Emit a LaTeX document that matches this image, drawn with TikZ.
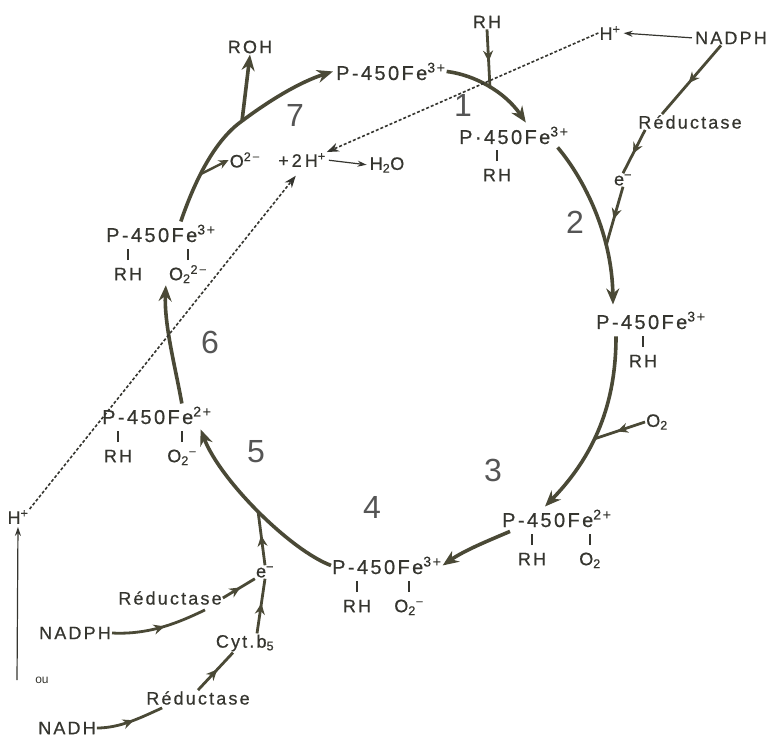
\documentclass[tikz,border=0pt]{standalone}
\usepackage{fontspec}
\setmainfont{Liberation Sans}
\newfontfamily\spaced{Liberation Sans}[LetterSpace=12,FakeBold=0.6]
\usetikzlibrary{arrows.meta,calc,decorations.markings}

\definecolor{ink}{HTML}{4A4936}
\definecolor{txt}{HTML}{35352F}
\definecolor{numgray}{HTML}{555555}

\newcommand{\cpxfont}{\spaced\fontsize{20}{22}\selectfont}
\newcommand{\lblfont}{\spaced\fontsize{18}{20}\selectfont}
\newcommand{\ligfont}{\spaced\fontsize{18}{20}\selectfont}
\newcommand{\numfont}{\fontsize{32}{34}\selectfont}
\newcommand{\bond}[1]{\rule{1.5pt}{11pt}\\#1}

\begin{document}
\begin{tikzpicture}[
  x=1pt, y=-1pt, line join=round,
  cplx/.style={font=\cpxfont, text=txt, inner sep=1pt, anchor=base west},
  lig/.style={font=\ligfont, text=txt, inner sep=0pt, anchor=north, align=center},
  lbl/.style={font=\lblfont, text=txt, inner sep=1pt},
  num/.style={font=\numfont, text=numgray},
  cyc/.style={draw=ink, line width=3.6pt, -{Stealth[length=16pt,width=13pt]}},
  side/.style={draw=ink, line width=2.8pt,
    decoration={markings, mark=at position 0.55 with {\arrow{Stealth[length=11pt,width=10pt]}}},
    postaction={decorate}},
  feed/.style={draw=txt, line width=1.2pt, -{Stealth[length=9pt,width=6pt]}, shorten <=2pt, shorten >=2pt},
  proton/.style={draw=txt, line width=1.6pt, dash pattern=on 3pt off 2pt, -{Stealth[length=12pt,width=9pt]}}
]
\useasboundingbox (0,0) rectangle (779,743);

% cytochrome states
\node[cplx] (fe0) at (335,80) {P-450Fe\textsuperscript{3+}};
\node[cplx] (s1) at (458,144) {P·450Fe\textsuperscript{3+}};
\node[lig] (s1rh) at (497,150) {\bond{RH}};
\node[cplx] (s2) at (595,329) {P-450Fe\textsuperscript{3+}};
\node[lig] (s2rh) at (643,336) {\bond{RH}};
\node[cplx] (s3) at (501,527) {P-450Fe\textsuperscript{2+}};
\node[lig] (s3rh) at (532,534) {\bond{RH}};
\node[lig] (s3o) at (590,534) {\bond{O\textsubscript{2}}};
\node[cplx] (s4) at (331,574) {P-450Fe\textsuperscript{3+}};
\node[lig] (s4rh) at (357,581) {\bond{RH}};
\node[lig] (s4o) at (409,581) {\bond{O\textsubscript{2}\textsuperscript{−}}};
\node[cplx] (s5) at (101,424) {P-450Fe\textsuperscript{2+}};
\node[lig] (s5rh) at (118,431) {\bond{RH}};
\node[lig] (s5o) at (182,431) {\bond{O\textsubscript{2}\textsuperscript{−}}};
\node[cplx] (s6) at (105,242) {P-450Fe\textsuperscript{3+}};
\node[lig] (s6rh) at (128,249) {\bond{RH}};
\node[lig] (s6o) at (188,249) {\bond{O\textsubscript{2}\textsuperscript{2−}}};

% step numbers
\node[num] (n1) at (463,105) {1};
\node[num] (n2) at (575,222) {2};
\node[num] (n3) at (493,470) {3};
\node[num] (n4) at (372,507) {4};
\node[num] (n5) at (256,452) {5};
\node[num] (n6) at (210,342) {6};
\node[num] (n7) at (295,115) {7};

% substrates, cofactors, products
\node[lbl] (rh) at (487,22) {RH};
\node[lbl] (hp) at (610,33) {H\textsuperscript{+}};
\node[lbl] (nadph1) at (731,38) {NADPH};
\node[lbl] (red1) at (690,122) {Réductase};
\node[lbl] (e1) at (623,180) {e\textsuperscript{−}};
\node[lbl] (o2) at (657,422) {O\textsubscript{2}};
\node[lbl] (e5) at (265,572) {e\textsuperscript{−}};
\node[lbl] (red5) at (170,598) {Réductase};
\node[lbl] (nadph5) at (75,633) {NADPH};
\node[lbl] (cyt) at (245,643) {Cyt.b\textsubscript{5}};
\node[lbl] (red6) at (198,698) {Réductase};
\node[lbl] (nadh) at (67,728) {NADH};
\node[lbl] (hb) at (18,517) {H\textsuperscript{+}};
\node[lbl, font=\fontsize{12}{14}\selectfont] (ou) at (42,680) {ou};
\node[lbl] (roh) at (250,47) {ROH};
\node[lbl] (oo) at (245,160) {O\textsuperscript{2−}};
\node[lbl] (h2) at (302,160) {+\,2\,H\textsuperscript{+}};
\node[lbl] (h2o) at (387,165) {H\textsubscript{2}O};

% points where side arrows join the cycle
\coordinate (j1) at (490,88);
\coordinate (j2) at (606,246);
\coordinate (j3) at (594,439);
\coordinate (j5) at (258,511);
\coordinate (j7) at (242,121);
\coordinate (j7b) at (201,174);
\coordinate (hb0) at (17,682);

% the cycle
\draw[cyc] (fe0.east) .. controls (475,75) and (505,92) .. ($(s1.north)+(12,-3)$);
\draw[cyc] ($(s1.south east)+(-12,2)$) .. controls (585,180) and (612,235) .. ($(s2.north west)+(18,-6)$);
\draw[cyc] ($(s2.south west)+(21,6)$) .. controls (616,395) and (600,450) .. ($(s3.north west)+(44,-2)$);
\draw[cyc] ($(s3.south west)+(9,3)$) .. controls (490,540) and (465,550) .. (s4.east);
\draw[cyc] (s4.west) .. controls (290,550) and (220,480) .. ($(s5.south east)+(-12,4)$);
\draw[cyc] ($(s5.north)+(25,-2)$) .. controls (176,370) and (164,325) .. ($(s6o.south west)+(-3,2)$);
\draw[cyc] ($(s6.north)+(20,-2)$) .. controls (195,180) and (215,140) .. (j7)
  .. controls (270,100) and (300,82) .. ($(fe0.west)+(-2,0)$);
\draw[cyc] (j7) -- (roh.south);

% inputs
\draw[side] (rh.south) -- (j1);
\draw[side] ($(nadph1.south)+(-10,0)$) -- ($(red1.north)+(-28,0)$);
\draw[side] ($(red1.south west)+(8,0)$) -- (e1.north);
\draw[side] (e1.south) -- (j2);
\draw[side] (o2.west) -- (j3);
\draw[side] (e5.north) -- (j5);
\draw[side] (red5.east) -- (e5.south west);
\draw[side] (nadph5.east) .. controls (150,635) and (180,622) .. ($(red5.south)+(35,4)$);
\draw[side] ($(cyt.north)+(12,0)$) -- (e5.south);
\draw[side] (red6.north) -- ($(cyt.south)+(-12,0)$);
\draw[side] (nadh.east) .. controls (120,728) and (140,718) .. ($(red6.south west)+(17,2)$);
\draw[draw=ink, line width=2.4pt, -{Stealth[length=10pt,width=9pt]}] (j7b) -- (oo.west);

% protons and water
\draw[feed] (nadph1.west) -- (hp.east);
\draw[feed] (hb0) -- (hb.south);
\draw[feed] (h2.east) -- (h2o.west);
\draw[proton] (hp.west) -- (h2.north east);
\draw[proton, shorten >=10pt] (hb.north east) -- (h2.south);
\end{tikzpicture}
\end{document}
